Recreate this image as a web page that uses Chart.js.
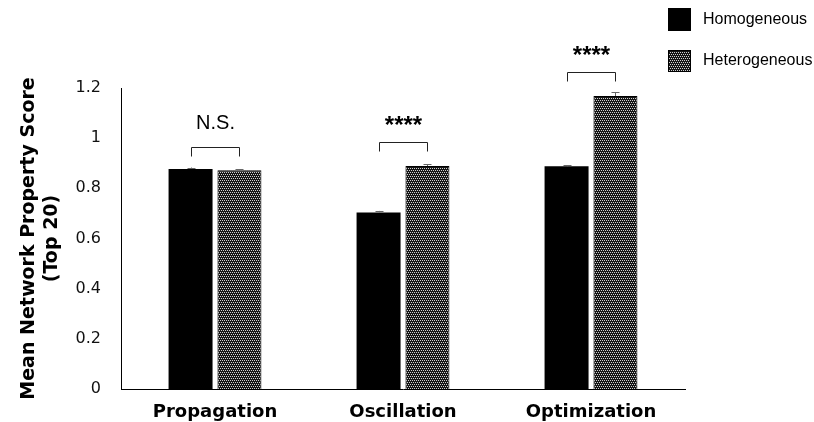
<!DOCTYPE html>
<html>
<head>
<meta charset="utf-8">
<script src="https://cdn.jsdelivr.net/npm/chart.js@4"></script>
<style>
  html, body { margin: 0; padding: 0; background: #fff; }
  #wrap { width: 814px; height: 422px; }
</style>
</head>
<body>
<div id="wrap"><canvas id="myChart"></canvas></div>
<script>
let categories = ['Propagation', 'Oscillation', 'Optimization'];
let homogeneous = [0.877, 0.704, 0.888];
let heterogeneous = [0.872, 0.889, 1.168];
let homogeneousErr = [0.006, 0.006, 0.005];
let heterogeneousErr = [0.004, 0.007, 0.016];
let yTicks = [0, 0.2, 0.4, 0.6, 0.8, 1, 1.2];
// significance brackets (height in axis units + label)
let bracketLevels = [0.965, 0.985, 1.265];
let bracketLabels = ['N.S.', '****', '****'];
let seriesNames = ['Homogeneous', 'Heterogeneous'];

function makePattern(){
    let c = document.createElement('canvas');
    c.width = 4;
    c.height = 4;
    let g = c.getContext('2d');
    g.fillStyle = '#151515';
    g.fillRect(0, 0, 4, 4);
    g.fillStyle = '#d0d0d0';
    g.fillRect(0, 0, 1, 1);
    g.fillRect(2, 0, 1, 1);
    g.fillRect(1, 2, 1, 1);
    g.fillRect(3, 2, 1, 1);
    return g.createPattern(c, 'repeat');
}

let dotted = makePattern();

// error bars, brackets and legend
let extras = {
    id: 'extras',
    afterDatasetsDraw(chart){
        let ctx = chart.ctx;
        let y = chart.scales.y;
        let errs = [homogeneousErr, heterogeneousErr];
        let vals = [homogeneous, heterogeneous];
        ctx.save();
        ctx.strokeStyle = '#666';
        ctx.lineWidth = 1;
        for(let d = 0; d < 2; d++){
            let meta = chart.getDatasetMeta(d);
            meta.data.forEach((bar, i) => {
                let top = y.getPixelForValue(vals[d][i] + errs[d][i]);
                let x = Math.round(bar.x) + 0.5;
                ctx.beginPath();
                ctx.moveTo(x, bar.y);
                ctx.lineTo(x, top);
                ctx.moveTo(x - 4, Math.round(top) + 0.5);
                ctx.lineTo(x + 4, Math.round(top) + 0.5);
                ctx.stroke();
            });
        }
        // brackets
        ctx.strokeStyle = '#222';
        ctx.fillStyle = '#000';
        ctx.textAlign = 'center';
        ctx.textBaseline = 'alphabetic';
        for(let i = 0; i < categories.length; i++){
            let x1 = Math.round(chart.getDatasetMeta(0).data[i].x) + 0.5;
            let x2 = Math.round(chart.getDatasetMeta(1).data[i].x) + 0.5;
            let by = Math.round(y.getPixelForValue(bracketLevels[i])) + 0.5;
            ctx.beginPath();
            ctx.moveTo(x1, by + 9);
            ctx.lineTo(x1, by);
            ctx.lineTo(x2, by);
            ctx.lineTo(x2, by + 9);
            ctx.stroke();
            let label = bracketLabels[i];
            if(label === 'N.S.'){
                ctx.font = '20px "Liberation Sans", Arial, sans-serif';
                ctx.fillText(label, (x1 + x2) / 2, by - 19);
            }else{
                ctx.font = 'bold 24px "Liberation Sans", Arial, sans-serif';
                ctx.fillText(label, (x1 + x2) / 2, by - 10);
            }
        }
        // legend
        ctx.textAlign = 'left';
        ctx.textBaseline = 'middle';
        ctx.font = '16px "Liberation Sans", Arial, sans-serif';
        ctx.fillStyle = '#000';
        ctx.fillRect(668, 8, 23, 23);
        ctx.fillText(seriesNames[0], 703, 20);
        ctx.fillStyle = dotted;
        ctx.fillRect(668, 50, 23, 22);
        ctx.strokeStyle = '#000';
        ctx.strokeRect(668.5, 50.5, 22, 21);
        ctx.fillStyle = '#000';
        ctx.fillText(seriesNames[1], 703, 61);
        ctx.restore();
    }
};

let ctx = document.getElementById('myChart').getContext('2d');
let myChart = new Chart(ctx, {
    type: 'bar',
    data: {
        labels: categories,
        datasets: [{
            label: seriesNames[0],
            data: homogeneous,
            backgroundColor: '#000',
            borderWidth: 0,
            categoryPercentage: 0.52,
            barPercentage: 0.9
        }, {
            label: seriesNames[1],
            data: heterogeneous,
            backgroundColor: dotted,
            borderColor: '#000',
            borderWidth: 1,
            categoryPercentage: 0.52,
            barPercentage: 0.9
        }]
    },
    options: {
        responsive: true,
        maintainAspectRatio: false,
        animation: false,
        layout: {
            padding: {top: 88, right: 129, left: 0, bottom: 0}
        },
        plugins: {
            legend: {display: false},
            tooltip: {enabled: false}
        },
        scales: {
            x: {
                grid: {display: false},
                border: {display: true, color: '#000', width: 1},
                ticks: {
                    color: '#000',
                    padding: 5,
                    font: {family: '"DejaVu Sans"', size: 18, weight: 'bold'}
                },
                afterFit(s){ s.height = 33; }
            },
            y: {
                min: 0,
                max: 1.2,
                afterBuildTicks(s){ s.ticks = yTicks.map(v => ({value: v})); },
                grid: {display: false},
                border: {display: true, color: '#000', width: 1},
                ticks: {
                    color: '#111',
                    padding: 12,
                    font: {family: '"DejaVu Sans"', size: 16},
                    callback: (v) => String(Math.round(v * 10) / 10)
                },
                title: {
                    display: true,
                    text: ['Mean Network Property Score', '(Top 20)'],
                    color: '#000',
                    padding: {top: 18, bottom: 0},
                    font: {family: '"DejaVu Sans"', size: 19, weight: 'bold', lineHeight: 1.2}
                },
                afterFit(s){ s.width = 121; }
            }
        }
    },
    plugins: [extras]
});
</script>
</body>
</html>
